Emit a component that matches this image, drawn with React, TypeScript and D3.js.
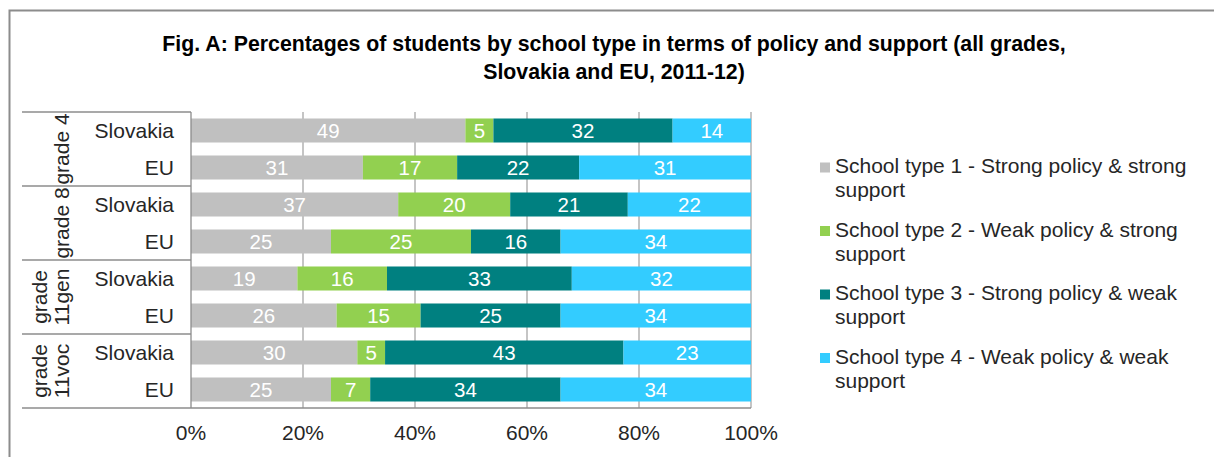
import React from "react";
import * as d3 from "d3";

// Row labels: each school grade holds a Slovakia row and an EU row
const groups = ["grade 4", "grade 8", "grade 11gen", "grade 11voc"];
const groupLines = [["grade 4"], ["grade 8"], ["grade", "11gen"], ["grade", "11voc"]];
const countries = ["Slovakia", "EU"];

// Percent of students per school type, rows in the order listed above
const type1 = [49, 31, 37, 25, 19, 26, 30, 25];
const type2 = [5, 17, 20, 25, 16, 15, 5, 7];
const type3 = [32, 22, 21, 16, 33, 25, 43, 34];
const type4 = [14, 31, 22, 34, 32, 34, 23, 34];

const seriesKeys = ["t1", "t2", "t3", "t4"];
const seriesColors = ["#c0c0c0", "#92d050", "#008080", "#33ccff"];
const legendLines = [
  ["School type 1 - Strong policy & strong", "support"],
  ["School type 2 - Weak policy & strong", "support"],
  ["School type 3 - Strong policy & weak", "support"],
  ["School type 4 - Weak policy & weak", "support"],
];

const xTicks = [0, 0.2, 0.4, 0.6, 0.8, 1];
const titleLines = [
  "Fig. A: Percentages of students by school type in terms of policy and support (all grades,",
  "Slovakia and EU, 2011-12)",
];

const FONT = "'Liberation Sans', Arial, Helvetica, sans-serif";
const W = 1214;
const H = 457;

const plot = { left: 191, right: 751, top: 112, bottom: 408 };
const catAxisLeft = 22;

export default function App() {
  const rows = groups.flatMap((g, gi) =>
    countries.map((c, ci) => {
      const i = gi * countries.length + ci;
      return {
        key: `${g}|${c}`,
        group: g,
        country: c,
        t1: type1[i],
        t2: type2[i],
        t3: type3[i],
        t4: type4[i],
      };
    })
  );

  const stack = d3.stack<any>().keys(seriesKeys).offset(d3.stackOffsetExpand);
  const stacked = stack(rows);

  const x = d3.scaleLinear().domain([0, 1]).range([plot.left, plot.right]);
  const y = d3
    .scaleBand<string>()
    .domain(rows.map((r) => r.key))
    .range([plot.top, plot.bottom])
    .paddingInner(0.351)
    .paddingOuter(0.1755);

  const groupBand = d3
    .scaleBand<string>()
    .domain(groups)
    .range([plot.top, plot.bottom]);

  const gridColor = "#a6a6a6";
  const axisColor = "#8c8c8c";

  return (
    <svg
      width={W}
      height={H}
      style={{ position: "absolute", left: 0, top: 0, fontFamily: FONT }}
    >
      <rect x={0} y={0} width={W} height={H} fill="#ffffff" />
      {/* outer chart frame */}
      <rect
        x={9.5}
        y={10.5}
        width={W + 40}
        height={H + 40}
        fill="none"
        stroke="#8c8c8c"
        strokeWidth={2}
      />

      {/* title */}
      {titleLines.map((t, i) => (
        <text
          key={i}
          x={614}
          y={51 + i * 27.5}
          textAnchor="middle"
          fontSize={21.3}
          fontWeight="bold"
          fill="#000"
        >
          {t}
        </text>
      ))}

      {/* vertical gridlines */}
      {xTicks.slice(1).map((t) => (
        <line
          key={t}
          x1={x(t)}
          x2={x(t)}
          y1={plot.top}
          y2={plot.bottom}
          stroke={gridColor}
          strokeWidth={1.3}
        />
      ))}

      {/* stacked bars */}
      {stacked.map((s, si) => (
        <g key={s.key} fill={seriesColors[si]}>
          {s.map((d, di) => (
            <rect
              key={di}
              x={x(d[0])}
              y={y(rows[di].key)}
              width={x(d[1]) - x(d[0])}
              height={y.bandwidth()}
            />
          ))}
        </g>
      ))}

      {/* value labels */}
      {stacked.map((s, si) => (
        <g key={`l${s.key}`}>
          {s.map((d, di) => (
            <text
              key={di}
              x={(x(d[0]) + x(d[1])) / 2}
              y={(y(rows[di].key) as number) + y.bandwidth() / 2}
              dy="0.36em"
              textAnchor="middle"
              fontSize={20.5}
              fill="#ffffff"
            >
              {(rows[di] as any)[s.key]}
            </text>
          ))}
        </g>
      ))}

      {/* value axis line and category axis lines */}
      <line
        x1={plot.left}
        x2={plot.left}
        y1={plot.top}
        y2={plot.bottom}
        stroke={axisColor}
        strokeWidth={1.3}
      />
      {groups.map((g) => (
        <line
          key={g}
          x1={catAxisLeft}
          x2={plot.left}
          y1={groupBand(g)}
          y2={groupBand(g)}
          stroke={axisColor}
          strokeWidth={1.3}
        />
      ))}
      <line
        x1={catAxisLeft}
        x2={plot.right}
        y1={plot.bottom}
        y2={plot.bottom}
        stroke={axisColor}
        strokeWidth={1.3}
      />

      {/* country labels */}
      {rows.map((r) => (
        <text
          key={r.key}
          x={174}
          y={(y(r.key) as number) + y.bandwidth() / 2}
          dy="0.36em"
          textAnchor="end"
          fontSize={21}
          fill="#262626"
        >
          {r.country}
        </text>
      ))}

      {/* grade labels, rotated */}
      {groups.map((g, gi) => {
        const lines = groupLines[gi];
        const cy = (groupBand(g) as number) + groupBand.bandwidth() / 2;
        return lines.map((ln, li) => {
          const cx = 61 - (lines.length - 1 - li) * 22;
          return (
            <text
              key={`${g}-${li}`}
              transform={`translate(${cx},${cy}) rotate(-90)`}
              dy="0.36em"
              textAnchor="middle"
              fontSize={21}
              fill="#262626"
            >
              {ln}
            </text>
          );
        });
      })}

      {/* x tick labels */}
      {xTicks.map((t) => (
        <text
          key={t}
          x={x(t)}
          y={440}
          textAnchor="middle"
          fontSize={21}
          fill="#262626"
        >
          {d3.format(".0%")(t)}
        </text>
      ))}

      {/* legend */}
      {legendLines.map((lines, i) => {
        const base = 173 + i * 63.5;
        return (
          <g key={i}>
            <rect
              x={820}
              y={base - 10.5}
              width={10}
              height={10}
              fill={seriesColors[i]}
            />
            {lines.map((ln, li) => (
              <text
                key={li}
                x={835}
                y={base + li * 24}
                fontSize={21}
                fill="#262626"
              >
                {ln}
              </text>
            ))}
          </g>
        );
      })}
    </svg>
  );
}
